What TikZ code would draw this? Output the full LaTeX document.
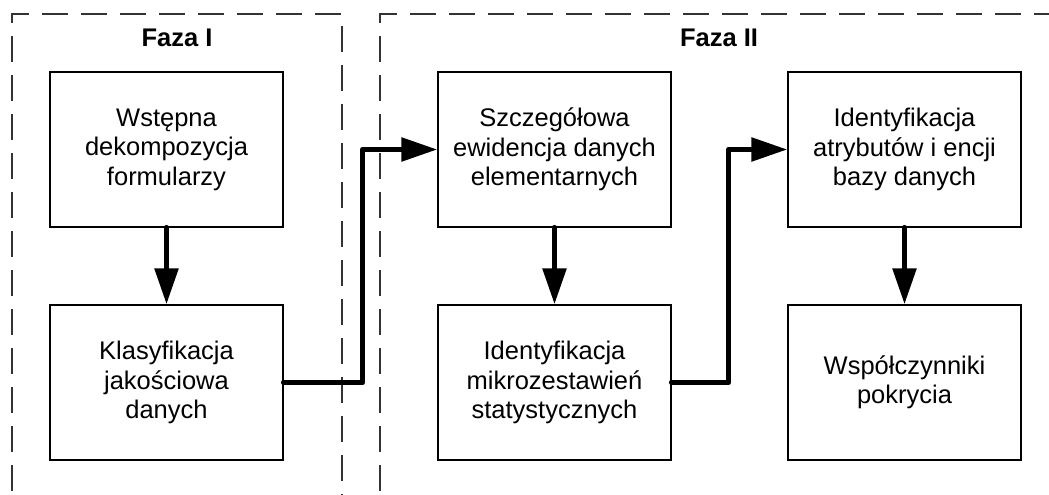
\documentclass[tikz,border=0pt]{standalone}
\usepackage{fontspec}
\setmainfont{Liberation Sans}
\usetikzlibrary{arrows.meta}
\tikzset{
  procbox/.style={draw=black, line width=1.3pt, minimum width=233pt, minimum height=155pt,
    inner sep=0pt, align=center, font=\fontsize{25.5}{29.5}\selectfont},
  flow/.style={line width=5.5pt, line cap=round, line join=round,
    -{Triangle[length=36pt,width=23pt]}},
  frame/.style={draw=black!80, line width=1.1pt, dash pattern=on 26pt off 13pt},
  phase/.style={font=\fontsize{25.5}{29.5}\selectfont\bfseries}
}
\begin{document}
\begin{tikzpicture}[x=1pt,y=-1pt]
\useasboundingbox (0,0) rectangle (1049,495);
\begin{scope}
\clip (0,0) rectangle (1049,495);
\draw[frame] (12,530) -- (12,14) -- (342,14) -- (342,530);
\draw[frame] (380,530) -- (380,14) -- (1070,14) -- (1070,530);
\end{scope}
\node[phase] (f1) at (177,38) {Faza I};
\node[phase] (f2) at (719,38) {Faza II};
\node[procbox] (a) at (166.5,149.5) {Wstępna\\dekompozycja\\formularzy};
\node[procbox] (b) at (166.5,382.5) {Klasyfikacja\\jakościowa\\danych};
\node[procbox] (c) at (554.5,149.5) {Szczegółowa\\ewidencja danych\\elementarnych};
\node[procbox] (d) at (554.5,382.5) {Identyfikacja\\mikrozestawień\\statystycznych};
\node[procbox] (e) at (904.5,149.5) {Identyfikacja\\atrybutów i encji\\bazy danych};
\node[procbox] (f) at (904.5,382.5) {Współczynniki\\pokrycia};
\draw[flow] (a.south) -- (b.north);
\draw[flow] (c.south) -- (d.north);
\draw[flow] (e.south) -- (f.north);
\draw[flow] (b.east) -- ++(79,0) |- (c.west);
\draw[flow] (d.east) -- ++(57,0) |- (e.west);
\end{tikzpicture}
\end{document}
